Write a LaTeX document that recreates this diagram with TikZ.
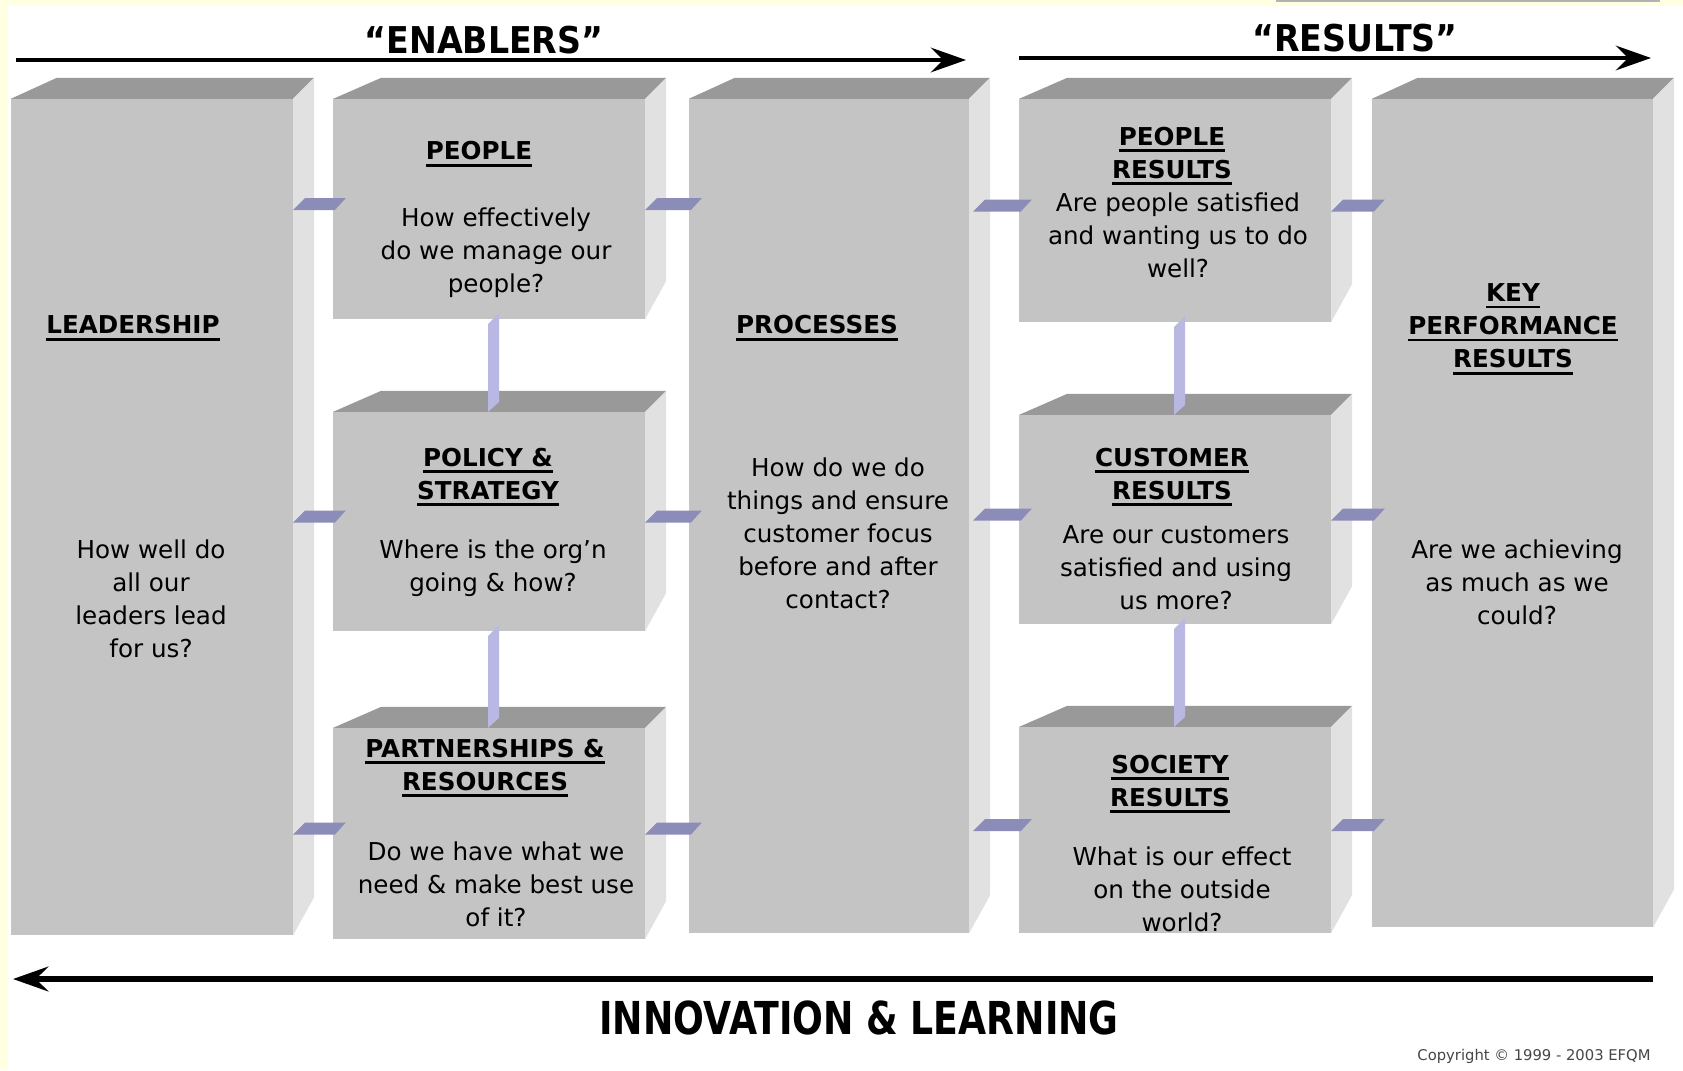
\documentclass[tikz,border=0pt]{standalone}
\usepackage{fontspec}
\setmainfont{DejaVu Sans}
\newfontfamily\bannerfont[FakeStretch=0.8]{DejaVu Sans}
\newfontfamily\quotefont[FakeStretch=0.9]{DejaVu Sans}
\usetikzlibrary{positioning,arrows.meta,calc}
\definecolor{frontgray}{RGB}{196,196,196}
\definecolor{topgray}{RGB}{153,153,153}
\definecolor{sidegray}{RGB}{225,225,225}
\definecolor{platelav}{RGB}{140,140,184}
\definecolor{barlav}{RGB}{184,184,226}
\definecolor{paper}{RGB}{255,255,225}
\definecolor{copygray}{RGB}{70,70,70}

\newsavebox\hdbox
\newcommand\hd[1]{\sbox\hdbox{#1}\rlap{\rule[-2pt]{\wd\hdbox}{0.8pt}}\usebox\hdbox}

\begin{document}
\begin{tikzpicture}[
    x=0.01cm, y=-0.01cm,
    % Block styles
    frontbox/.style={rectangle, fill=frontgray, inner sep=0pt, outer sep=0pt},
    topface/.style={fill=topgray},
    sideface/.style={fill=sidegray},
    linkplate/.style={fill=platelav},
    linkbar/.style={fill=barlav},
    % Text styles
    heading/.style={font=\fontsize{7}{9.4}\selectfont\bfseries, align=center, inner sep=0pt},
    question/.style={font=\fontsize{7}{9.4}\selectfont, align=center, inner sep=0pt},
    banner/.style={font=\quotefont\bfseries\fontsize{10.5}{12}\selectfont, inner sep=0pt},
    % Arrow styles
    flow/.style={-{Stealth[length=10pt,width=7pt,inset=3.5pt]}, line width=1.3pt}
]

% Page
\useasboundingbox (0,0) rectangle (1683,1070);
\fill[white] (0,0) rectangle (1683,1070);
\fill[paper] (0,0) rectangle (1683,6);
\fill[paper] (0,0) rectangle (8,1070);
\fill[gray!60] (1276,0) rectangle (1660,2);

% Enablers
\node[frontbox, minimum width=2.82cm, minimum height=8.36cm] (lead) at (152,517) {};
\node[frontbox, minimum width=3.12cm, minimum height=2.20cm] (people) at (489,209) {};
\node[frontbox, minimum width=3.12cm, minimum height=2.19cm] (policy) at (489,521.5) {};
\node[frontbox, minimum width=3.12cm, minimum height=2.11cm] (partner) at (489,833.5) {};
\node[frontbox, minimum width=2.80cm, minimum height=8.34cm] (proc) at (829,516) {};

% Results
\node[frontbox, minimum width=3.12cm, minimum height=2.23cm] (presults) at (1175,210.5) {};
\node[frontbox, minimum width=3.12cm, minimum height=2.09cm] (cresults) at (1175,519.5) {};
\node[frontbox, minimum width=3.12cm, minimum height=2.06cm] (sresults) at (1175,830) {};
\node[frontbox, minimum width=2.81cm, minimum height=8.28cm] (kpr) at (1512.5,513) {};

% Top faces
\fill[topface] (lead.north west) -- ++(46,-21) -- ($(lead.north east)+(21,-21)$) -- (lead.north east) -- cycle;
\fill[topface] (people.north west) -- ++(48,-21) -- ($(people.north east)+(21,-21)$) -- (people.north east) -- cycle;
\fill[topface] (policy.north west) -- ++(48,-21) -- ($(policy.north east)+(21,-21)$) -- (policy.north east) -- cycle;
\fill[topface] (partner.north west) -- ++(48,-21) -- ($(partner.north east)+(21,-21)$) -- (partner.north east) -- cycle;
\fill[topface] (proc.north west) -- ++(46,-21) -- ($(proc.north east)+(21,-21)$) -- (proc.north east) -- cycle;
\fill[topface] (presults.north west) -- ++(48,-21) -- ($(presults.north east)+(21,-21)$) -- (presults.north east) -- cycle;
\fill[topface] (cresults.north west) -- ++(48,-21) -- ($(cresults.north east)+(21,-21)$) -- (cresults.north east) -- cycle;
\fill[topface] (sresults.north west) -- ++(48,-21) -- ($(sresults.north east)+(21,-21)$) -- (sresults.north east) -- cycle;
\fill[topface] (kpr.north west) -- ++(46,-21) -- ($(kpr.north east)+(21,-21)$) -- (kpr.north east) -- cycle;

% Side faces
\fill[sideface] (lead.north east) -- ++(21,-21) -- ($(lead.south east)+(21,-38)$) -- (lead.south east) -- cycle;
\fill[sideface] (people.north east) -- ++(21,-21) -- ($(people.south east)+(21,-38)$) -- (people.south east) -- cycle;
\fill[sideface] (policy.north east) -- ++(21,-21) -- ($(policy.south east)+(21,-38)$) -- (policy.south east) -- cycle;
\fill[sideface] (partner.north east) -- ++(21,-21) -- ($(partner.south east)+(21,-38)$) -- (partner.south east) -- cycle;
\fill[sideface] (proc.north east) -- ++(21,-21) -- ($(proc.south east)+(21,-38)$) -- (proc.south east) -- cycle;
\fill[sideface] (presults.north east) -- ++(21,-21) -- ($(presults.south east)+(21,-38)$) -- (presults.south east) -- cycle;
\fill[sideface] (cresults.north east) -- ++(21,-21) -- ($(cresults.south east)+(21,-38)$) -- (cresults.south east) -- cycle;
\fill[sideface] (sresults.north east) -- ++(21,-21) -- ($(sresults.south east)+(21,-38)$) -- (sresults.south east) -- cycle;
\fill[sideface] (kpr.north east) -- ++(21,-21) -- ($(kpr.south east)+(21,-38)$) -- (kpr.south east) -- cycle;

% Horizontal links
\fill[linkplate] ($(lead.east |- people.center)+(0,1)$) -- ++(12,-12) -- ($(people.west)+(13,-11)$) -- ($(people.west)+(2,1)$) -- cycle;
\fill[linkplate] ($(lead.east |- policy.center)+(0,1)$) -- ++(12,-12) -- ($(policy.west)+(13,-11)$) -- ($(policy.west)+(2,1)$) -- cycle;
\fill[linkplate] ($(lead.east |- partner.center)+(0,1)$) -- ++(12,-12) -- ($(partner.west)+(13,-11)$) -- ($(partner.west)+(2,1)$) -- cycle;
\fill[linkplate] ($(people.east)+(0,1)$) -- ++(12,-12) -- ($(proc.west |- people.center)+(13,-11)$) -- ($(proc.west |- people.center)+(2,1)$) -- cycle;
\fill[linkplate] ($(policy.east)+(0,1)$) -- ++(12,-12) -- ($(proc.west |- policy.center)+(13,-11)$) -- ($(proc.west |- policy.center)+(2,1)$) -- cycle;
\fill[linkplate] ($(partner.east)+(0,1)$) -- ++(12,-12) -- ($(proc.west |- partner.center)+(13,-11)$) -- ($(proc.west |- partner.center)+(2,1)$) -- cycle;
\fill[linkplate] ($(proc.east |- presults.center)+(4,1)$) -- ++(12,-12) -- ($(presults.west)+(13,-11)$) -- ($(presults.west)+(2,1)$) -- cycle;
\fill[linkplate] ($(proc.east |- cresults.center)+(4,1)$) -- ++(12,-12) -- ($(cresults.west)+(13,-11)$) -- ($(cresults.west)+(2,1)$) -- cycle;
\fill[linkplate] ($(proc.east |- sresults.center)+(4,1)$) -- ++(12,-12) -- ($(sresults.west)+(13,-11)$) -- ($(sresults.west)+(2,1)$) -- cycle;
\fill[linkplate] ($(presults.east)+(0,1)$) -- ++(12,-12) -- ($(kpr.west |- presults.center)+(13,-11)$) -- ($(kpr.west |- presults.center)+(2,1)$) -- cycle;
\fill[linkplate] ($(cresults.east)+(0,1)$) -- ++(12,-12) -- ($(kpr.west |- cresults.center)+(13,-11)$) -- ($(kpr.west |- cresults.center)+(2,1)$) -- cycle;
\fill[linkplate] ($(sresults.east)+(0,1)$) -- ++(12,-12) -- ($(kpr.west |- sresults.center)+(13,-11)$) -- ($(kpr.west |- sresults.center)+(2,1)$) -- cycle;

% Vertical links
\fill[linkbar] ($(people.south)+(-1,5)$) -- ($(people.south)+(10,-6)$) -- ($(policy.north)+(10,-10)$) -- ($(policy.north)+(-1,0)$) -- cycle;
\fill[linkbar] ($(policy.south)+(-1,5)$) -- ($(policy.south)+(10,-6)$) -- ($(partner.north)+(10,-10)$) -- ($(partner.north)+(-1,0)$) -- cycle;
\fill[linkbar] ($(presults.south)+(-1,5)$) -- ($(presults.south)+(10,-6)$) -- ($(cresults.north)+(10,-10)$) -- ($(cresults.north)+(-1,0)$) -- cycle;
\fill[linkbar] ($(cresults.south)+(-1,5)$) -- ($(cresults.south)+(10,-6)$) -- ($(sresults.north)+(10,-10)$) -- ($(sresults.north)+(-1,0)$) -- cycle;

% Block texts
\node[heading] (leadtitle) at (133,328) {\hd{LEADERSHIP}};
\node[question] (leadtext) at (151,599) {How well do\\all our\\leaders lead\\for us?};

\node[heading] (peopletitle) at (479,154) {\hd{PEOPLE}};
\node[question] (peopletext) at (496,253) {How effectively\\do we manage our\\people?};

\node[heading] (policytitle) at (488,477) {\hd{POLICY \&}\\\hd{STRATEGY}};
\node[question] (policytext) at (493,568) {Where is the org'n\\going \& how?};

\node[heading] (partnertitle) at (485,768) {\hd{PARTNERSHIPS \&}\\\hd{RESOURCES}};
\node[question] (partnertext) at (496,884) {Do we have what we\\need \& make best use\\of it?};

\node[heading] (proctitle) at (817,328) {\hd{PROCESSES}};
\node[question] (proctext) at (838,533) {How do we do\\things and ensure\\customer focus\\before and after\\contact?};

\node[heading] (presultstitle) at (1172,156) {\hd{PEOPLE}\\\hd{RESULTS}};
\node[question] (presultstext) at (1178,235) {Are people satisfied\\and wanting us to do\\well?};

\node[heading] (cresultstitle) at (1172,477) {\hd{CUSTOMER}\\\hd{RESULTS}};
\node[question] (cresultstext) at (1176,568) {Are our customers\\satisfied and using\\us more?};

\node[heading] (sresultstitle) at (1170,784) {\hd{SOCIETY}\\\hd{RESULTS}};
\node[question] (sresultstext) at (1182,889) {What is our effect\\on the outside\\world?};

\node[heading] (kprtitle) at (1513,329) {\hd{KEY}\\\hd{PERFORMANCE}\\\hd{RESULTS}};
\node[question] (kprtext) at (1517,582) {Are we achieving\\as much as we\\could?};

% Flow arrows
\coordinate (enablersstart) at (16,60);
\coordinate (enablersend) at (966,60);
\coordinate (resultsstart) at (1019,58);
\coordinate (resultsend) at (1651,58);
\coordinate (learningstart) at (1653,979);
\coordinate (learningend) at (13,979);
\draw[flow] (enablersstart) -- (enablersend);
\draw[flow] (resultsstart) -- (resultsend);
\draw[flow, line width=1.6pt] (learningstart) -- (learningend);

% Banners
\node[banner] (enablers) at (484,40) {“ENABLERS”};
\node[banner] (results) at (1355,38) {“RESULTS”};
\node[font=\bannerfont\bfseries\fontsize{12.9}{14}\selectfont, inner sep=0pt] (innovation) at (859,1018) {INNOVATION \& LEARNING};
\node[font=\fontsize{4.2}{5}\selectfont, text=copygray, inner sep=0pt] (copyright) at (1534,1056) {Copyright © 1999 - 2003 EFQM};

\end{tikzpicture}
\end{document}
